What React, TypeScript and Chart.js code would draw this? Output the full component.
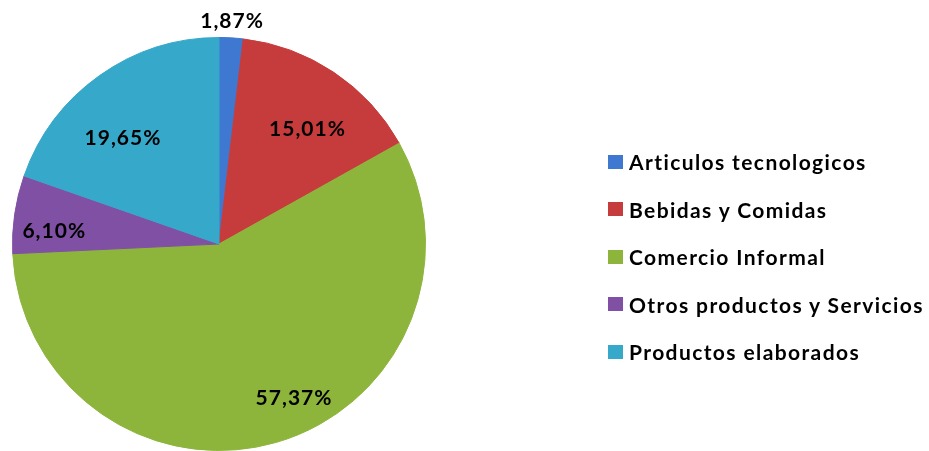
import React, { useEffect, useRef } from "react";
import { Chart, registerables } from "chart.js";

Chart.register(...registerables);

const categories = [
  "Articulos tecnologicos",
  "Bebidas y Comidas",
  "Comercio Informal",
  "Otros productos y Servicios",
  "Productos elaborados",
];
const values = [1.87, 15.01, 57.37, 6.1, 19.65];
const colors = ["#3E78D0", "#C63B3B", "#8DB53C", "#7F50A3", "#36A8CA"];
const legendColors = ["#3E78D0", "#C63B3B", "#8DB53C", "#7F50A3", "#36A8CA"];
// label placement style: radius factor and angular shift (deg)
const labelRadius = [1.08, 0.7, 0.83, 0.8, 0.69];
const labelShift = [0, 4, -10, -4, -7];

const FONT = "Lato, 'Open Sans', sans-serif";

const fmt = (v: number) => v.toFixed(2).replace(".", ",") + "%";

const labelPlugin = {
  id: "sliceLabels",
  afterDatasetsDraw(chart: any) {
    const ctx = chart.ctx;
    const meta = chart.getDatasetMeta(0);
    ctx.save();
    ctx.font = `bold 21px ${FONT}`;
    (ctx as any).letterSpacing = "1px";
    ctx.fillStyle = "#000";
    ctx.textAlign = "center";
    ctx.textBaseline = "middle";
    meta.data.forEach((arc: any, i: number) => {
      const p = arc.getProps(["x", "y", "startAngle", "endAngle", "outerRadius"], true);
      const a = (p.startAngle + p.endAngle) / 2 + (labelShift[i] * Math.PI) / 180;
      const r = p.outerRadius * labelRadius[i];
      ctx.fillText(fmt(values[i]), p.x + r * Math.cos(a), p.y + r * Math.sin(a));
    });
    ctx.restore();
  },
};

export default function App() {
  const ref = useRef<HTMLCanvasElement>(null);
  useEffect(() => {
    if (!ref.current) return;
    const chart = new Chart(ref.current, {
      type: "pie",
      data: {
        labels: categories,
        datasets: [
          {
            data: values,
            backgroundColor: colors,
            borderColor: colors,
            borderWidth: 1,
          },
        ],
      },
      options: {
        responsive: false,
        animation: false,
        layout: { padding: { left: 12, right: 503, top: 37, bottom: 0 } },
        plugins: {
          legend: { display: false },
          tooltip: { enabled: false },
        },
      },
      plugins: [labelPlugin],
    });
    return () => chart.destroy();
  }, []);

  return (
    <div style={{ position: "absolute", left: 0, top: 0, width: 929, height: 451, background: "#fff" }}>
      <canvas ref={ref} width={929} height={451} style={{ display: "block" }} />
      <div style={{ position: "absolute", left: 608, top: 138 }}>
        {categories.map((c, i) => (
          <div
            key={c}
            style={{
              height: 47.5,
              display: "flex",
              alignItems: "center",
              fontFamily: FONT,
              fontWeight: 700,
              fontSize: 21,
              letterSpacing: 1.4,
              color: "#000",
              whiteSpace: "nowrap",
            }}
          >
            <span
              style={{
                display: "inline-block",
                width: 15,
                height: 14,
                background: legendColors[i],
                marginRight: 6,
              }}
            />
            <span>{c}</span>
          </div>
        ))}
      </div>
    </div>
  );
}
